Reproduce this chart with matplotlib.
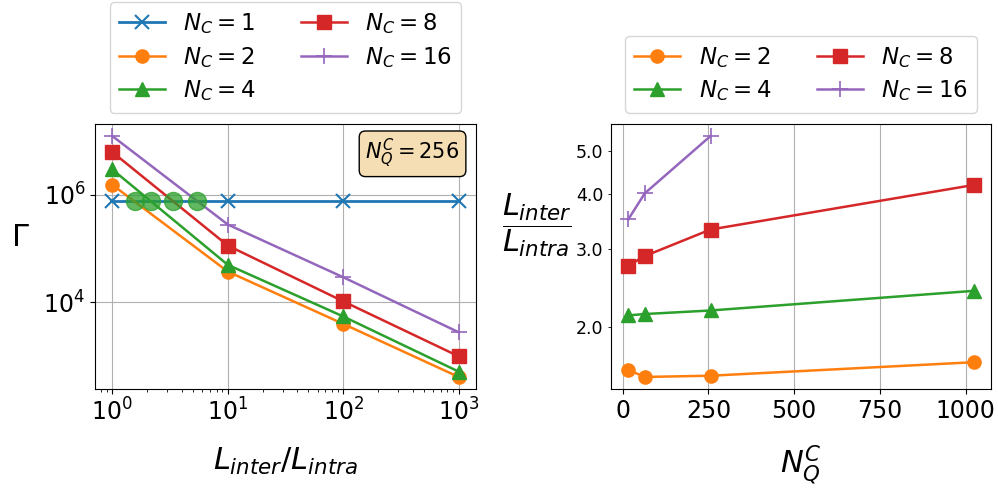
import matplotlib
matplotlib.use("Agg")
import matplotlib.pyplot as plt
import matplotlib.ticker as mticker
import numpy as np

# ---- data ----
ratio_x = [1, 10, 100, 1000]
gamma_nc1 = [7.7e5, 7.7e5, 7.7e5, 7.7e5]
gamma_nc2 = [1.53e6, 3.75e4, 4.0e3, 414]
gamma_nc4 = [2.95e6, 5.0e4, 5.5e3, 520]
gamma_nc8 = [6.2e6, 1.14e5, 1.05e4, 1000]
gamma_nc16 = [1.23e7, 2.8e5, 2.94e4, 2.8e3]
cross_x = [1.56, 2.18, 3.33, 5.45]
cross_y = [7.7e5, 7.7e5, 7.7e5, 7.7e5]

nq_x = [16, 64, 256, 1024]
nq_x16 = [16, 64, 256]
ratio_nc2 = [1.595, 1.537, 1.547, 1.66]
ratio_nc4 = [2.12, 2.135, 2.175, 2.41]
ratio_nc8 = [2.75, 2.89, 3.32, 4.19]
ratio_nc16 = [3.50, 4.01, 5.41]
minor_ticks_r = [2.0, 3.0, 4.0, 5.0]

C = {1: 'tab:blue', 2: 'tab:orange', 4: 'tab:green', 8: 'tab:red', 16: 'tab:purple'}

fig = plt.figure(figsize=(9.98, 4.91), dpi=100)
ax1 = fig.add_axes([95/998, 1-389/491, (476-95)/998, (389-124)/491])
ax2 = fig.add_axes([611/998, 1-389/491, (991-611)/998, (389-124)/491])

lw = 1.8
ms = 9.5
ax1.plot(ratio_x, gamma_nc1, color=C[1], marker='x', ms=10, mew=1.5, lw=2, label=r'$N_C=1$')
ax1.plot(ratio_x, gamma_nc2, color=C[2], marker='o', ms=ms, lw=lw, label=r'$N_C=2$')
ax1.plot(ratio_x, gamma_nc4, color=C[4], marker='^', ms=ms, lw=lw, label=r'$N_C=4$')
ax1.plot(ratio_x, gamma_nc8, color=C[8], marker='s', ms=ms, lw=lw, label=r'$N_C=8$')
ax1.plot(ratio_x, gamma_nc16, color=C[16], marker='+', ms=11, mew=1.2, lw=lw, label=r'$N_C=16$')
ax1.plot(cross_x, cross_y, linestyle='none', marker='o', ms=13, color='tab:green', alpha=0.75)
ax1.set_xscale('log')
ax1.set_yscale('log')
ax1.yaxis.set_major_locator(mticker.FixedLocator([1e4, 1e6]))
ax1.yaxis.set_minor_locator(mticker.NullLocator())
ax1.grid(True)
ax1.tick_params(labelsize=17)
ax1.set_xlabel(r'$L_{inter}/L_{intra}$', fontsize=22, va='center')
ax1.xaxis.set_label_coords(0.5, -0.275)
ax1.set_ylabel(r'$\Gamma$', fontsize=22, rotation=0, va='center', ha='center')
ax1.yaxis.set_label_coords(-0.197, 0.57)
ax1.text(0.957, 0.95, r'$N_Q^C=256$', transform=ax1.transAxes, ha='right', va='top', fontsize=15,
         bbox=dict(boxstyle='round', facecolor='wheat', edgecolor='black', alpha=1.0))
ax1.legend(loc='lower center', bbox_to_anchor=(0.5, 1.0), ncol=2, fontsize=16.5,
           borderaxespad=0.5, labelspacing=0.38)

ax2.plot(nq_x, ratio_nc2, color=C[2], marker='o', ms=ms, lw=lw, label=r'$N_C=2$')
ax2.plot(nq_x, ratio_nc4, color=C[4], marker='^', ms=ms, lw=lw, label=r'$N_C=4$')
ax2.plot(nq_x, ratio_nc8, color=C[8], marker='s', ms=ms, lw=lw, label=r'$N_C=8$')
ax2.plot(nq_x16, ratio_nc16, color=C[16], marker='+', ms=11, mew=1.2, lw=lw, label=r'$N_C=16$')
ax2.set_yscale('log')
ax2.yaxis.set_minor_locator(mticker.FixedLocator(minor_ticks_r))
ax2.yaxis.set_minor_formatter(mticker.FormatStrFormatter('%.1f'))
ax2.yaxis.set_major_formatter(mticker.NullFormatter())
ax2.grid(True)
ax2.set_xticks([0, 250, 500, 750, 1000])
ax2.tick_params(axis='x', labelsize=17)
ax2.tick_params(axis='y', which='minor', labelsize=12.5)
ax2.set_xlabel(r'$N_Q^C$', fontsize=22, va='center')
ax2.xaxis.set_label_coords(0.5, -0.29)
ax2.set_ylabel(r'$\dfrac{L_{inter}}{L_{intra}}$', fontsize=22, rotation=0, va='center', ha='center')
ax2.yaxis.set_label_coords(-0.195, 0.62)
ax2.legend(loc='lower center', bbox_to_anchor=(0.5, 1.0), ncol=2, fontsize=16.5,
           borderaxespad=0.5, labelspacing=0.38)

fig.savefig('out.png', dpi=100)
